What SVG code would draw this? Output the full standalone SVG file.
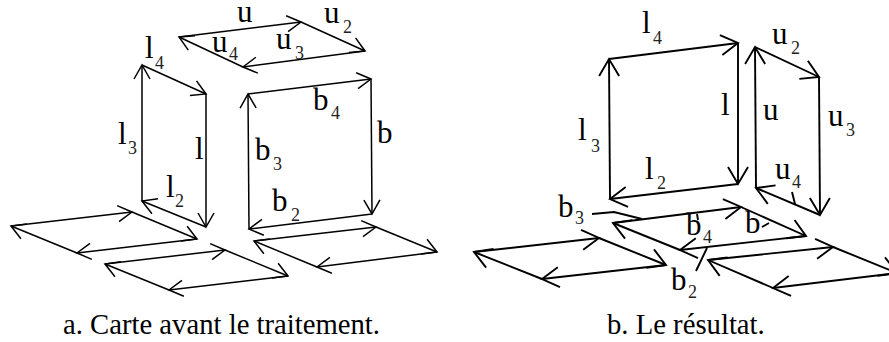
<svg xmlns="http://www.w3.org/2000/svg" width="889" height="342" viewBox="0 0 889 342">
<style>
text{font-family:"Liberation Serif","Times New Roman",serif;font-size:31px;fill:#000}
text.c{font-size:28.7px}
.s{font-size:18px;fill:#222}
line,polyline{stroke:#000;fill:none}
.a line{stroke-width:1.5;marker-end:url(#sm)}
.b line{stroke-width:1.9;marker-end:url(#lg)}
.t{stroke-width:1.9}
</style>
<defs>
<marker id="sm" markerUnits="userSpaceOnUse" markerWidth="18" markerHeight="20" refX="15" refY="9" orient="auto" overflow="visible"><path d="M1,1 L15,9 L1,17" fill="none" stroke="#000" stroke-width="1.5"/></marker>
<marker id="lg" markerUnits="userSpaceOnUse" markerWidth="20" markerHeight="24" refX="18" refY="11" orient="auto" overflow="visible"><path d="M1,1 L18,11 L1,21" fill="none" stroke="#000" stroke-width="1.9"/></marker>
</defs>
<rect width="889" height="342" fill="#fff"/>
<g id="connectors">
<g id="a-face-l" class="a"><line x1="142" y1="201" x2="142" y2="65"/><line x1="142" y1="65" x2="206" y2="94"/><line x1="206" y1="94" x2="206" y2="227"/><line x1="206" y1="227" x2="142" y2="201"/></g>
<g id="a-face-u" class="a"><line x1="179" y1="37" x2="301" y2="22"/><line x1="301" y1="22" x2="365" y2="51"/><line x1="365" y1="51" x2="243" y2="67"/><line x1="243" y1="67" x2="179" y2="37"/></g>
<g id="a-face-b" class="a"><line x1="249" y1="229" x2="248" y2="94"/><line x1="248" y1="94" x2="371" y2="79"/><line x1="371" y1="79" x2="372" y2="214"/><line x1="372" y1="214" x2="249" y2="229"/></g>
<g id="a-floor-1" class="a"><line x1="11" y1="226" x2="132" y2="212"/><line x1="132" y1="212" x2="197" y2="239"/><line x1="197" y1="239" x2="77" y2="253"/><line x1="77" y1="253" x2="11" y2="226"/></g>
<g id="a-floor-2" class="a"><line x1="105" y1="264" x2="225" y2="250"/><line x1="225" y1="250" x2="288" y2="276"/><line x1="288" y1="276" x2="169" y2="290"/><line x1="169" y1="290" x2="105" y2="264"/></g>
<g id="a-floor-3" class="a"><line x1="254" y1="241" x2="376" y2="227"/><line x1="376" y1="227" x2="437" y2="252"/><line x1="437" y1="252" x2="317" y2="267"/><line x1="317" y1="267" x2="254" y2="241"/></g>
<g id="b-face-l" class="b"><line x1="610" y1="199" x2="609" y2="59"/><line x1="609" y1="59" x2="738" y2="43"/><line x1="738" y1="43" x2="738" y2="184"/><line x1="738" y1="184" x2="610" y2="199"/></g>
<g id="b-face-u" class="b"><line x1="756" y1="188" x2="755" y2="47"/><line x1="755" y1="47" x2="819" y2="77"/><line x1="819" y1="77" x2="820" y2="215"/><line x1="820" y1="215" x2="756" y2="188"/></g>
<g id="b-floor-b" class="b"><line x1="613" y1="223" x2="741" y2="207"/><line x1="741" y1="207" x2="806" y2="236"/><line x1="806" y1="236" x2="680" y2="250"/><line x1="680" y1="250" x2="613" y2="223"/></g>
<g id="b-floor-1" class="b"><line x1="474" y1="252" x2="599" y2="238"/><line x1="599" y1="238" x2="666" y2="265"/><line x1="666" y1="265" x2="542" y2="279"/><line x1="542" y1="279" x2="474" y2="252"/></g>
<g id="b-floor-2" class="b"><line x1="708" y1="260" x2="833" y2="247"/><line x1="833" y1="247" x2="897" y2="273"/><line x1="897" y1="273" x2="773" y2="288"/><line x1="773" y1="288" x2="708" y2="260"/></g>
<g id="b-ticks"><polyline class="t" points="592,214 614,212 642,219"/><line class="t" x1="696" y1="271" x2="707" y2="248"/><line class="t" x1="792" y1="192" x2="795" y2="204"/><line class="t" x1="762" y1="227" x2="769" y2="223"/><line class="t" x1="697" y1="214" x2="698" y2="220"/></g>
</g>
<g id="labels-a">
<text x="237" y="22">u</text>
<text x="324" y="23">u<tspan class="s" x="343" y="33">2</tspan></text>
<text x="276" y="49">u<tspan class="s" x="295" y="59">3</tspan></text>
<text x="212" y="52">u<tspan class="s" x="229" y="60">4</tspan></text>
<text x="145" y="58">l<tspan class="s" x="155" y="69">4</tspan></text>
<text x="118" y="144">l<tspan class="s" x="128" y="154">3</tspan></text>
<text x="195" y="159">l</text>
<text x="166" y="197">l<tspan class="s" x="175" y="207">2</tspan></text>
<text x="313" y="110">b<tspan class="s" x="331" y="119">4</tspan></text>
<text x="377" y="143">b</text>
<text x="255" y="160">b<tspan class="s" x="273" y="170">3</tspan></text>
<text x="272" y="211">b<tspan class="s" x="291" y="221">2</tspan></text>
<text class="c" x="63" y="334">a. Carte avant le traitement.</text>
</g>
<g id="labels-b">
<text x="642" y="33">l<tspan class="s" x="653" y="44">4</tspan></text>
<text x="772" y="44">u<tspan class="s" x="791" y="54">2</tspan></text>
<text x="721" y="115">l</text>
<text x="763" y="120">u</text>
<text x="828" y="126">u<tspan class="s" x="846" y="136">3</tspan></text>
<text x="578" y="140">l<tspan class="s" x="591" y="152">3</tspan></text>
<text x="645" y="179">l<tspan class="s" x="657" y="189">2</tspan></text>
<text x="775" y="179">u<tspan class="s" x="792" y="188">4</tspan></text>
<text x="558" y="217">b<tspan class="s" x="575" y="224">3</tspan></text>
<text x="686" y="235">b<tspan class="s" x="703" y="243">4</tspan></text>
<text x="745" y="233">b</text>
<text x="671" y="290">b<tspan class="s" x="688" y="298">2</tspan></text>
<text class="c" x="607" y="334">b. Le résultat.</text>
</g>
</svg>
